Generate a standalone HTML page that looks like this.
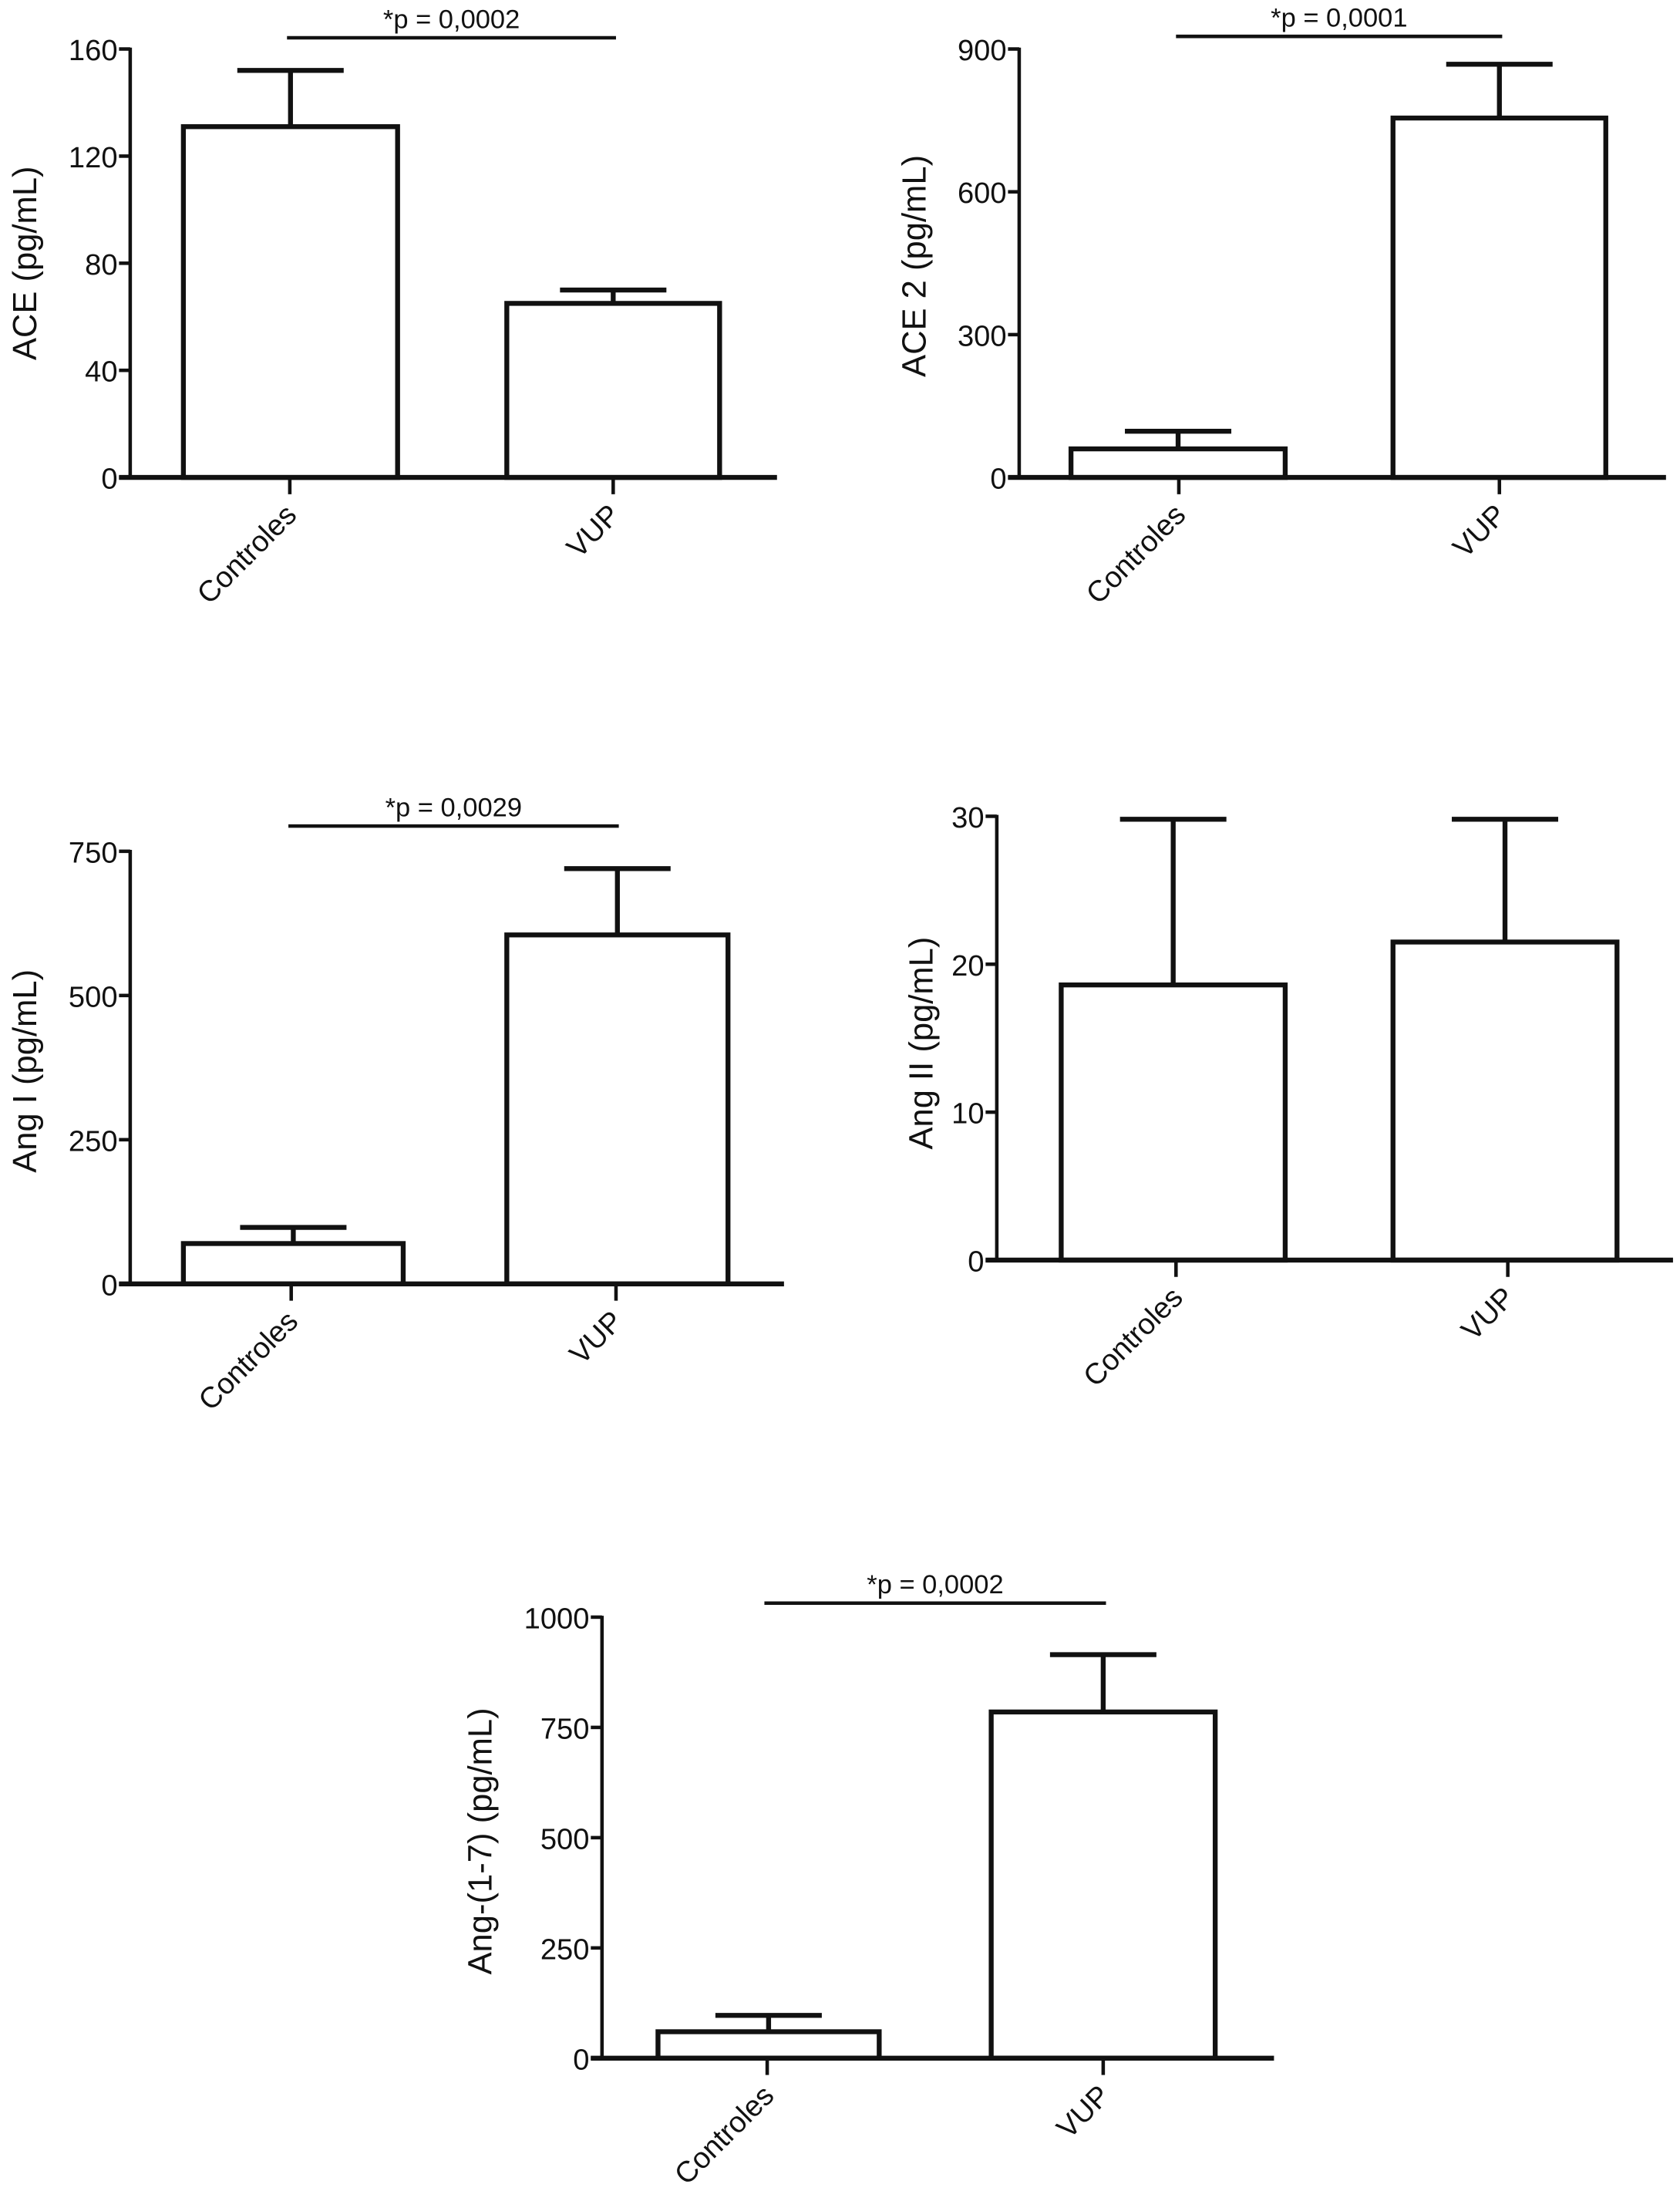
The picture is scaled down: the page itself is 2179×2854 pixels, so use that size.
<!DOCTYPE html>
<html><head><meta charset="utf-8"><style>
html,body{margin:0;padding:0;background:#fff;}
svg{display:block;}
text{font-family:"Liberation Sans",sans-serif;fill:#111;}
</style></head><body>
<svg id="fig" width="2179" height="2854" viewBox="0 0 1200 1572" preserveAspectRatio="none" xmlns="http://www.w3.org/2000/svg"></svg>
<script>
const categories = ["Controles", "VUP"];
const aceMeans = [131, 65];
const aceErr = [152, 70];
const ace2Means = [60, 755];
const ace2Err = [97, 868];
const angIMeans = [70, 605];
const angIErr = [98, 720];
const angIIMeans = [18.6, 21.5];
const angIIErr = [29.8, 29.8];
const ang17Means = [60, 785];
const ang17Err = [97, 915];
const aceTicks = [0, 40, 80, 120, 160];
const ace2Ticks = [0, 300, 600, 900];
const angITicks = [0, 250, 500, 750];
const angIITicks = [0, 10, 20, 30];
const ang17Ticks = [0, 250, 500, 750, 1000];
const pLabels = ["*p = 0,0002", "*p = 0,0001", "*p = 0,0029", "", "*p = 0,0002"];

const NS = "http://www.w3.org/2000/svg";
const svg = document.getElementById("fig");
function mk(tag, attrs, parent) {
  const e = document.createElementNS(NS, tag);
  for (const k in attrs) e.setAttribute(k, attrs[k]);
  (parent || svg).appendChild(e);
  return e;
}
const SW = 3.5;
function chart(cfg) {
  const g = mk("g", {});
  
  
  const max = cfg.ticks[cfg.ticks.length - 1];
  const y = v => cfg.y0 - (v / max) * (cfg.y0 - cfg.yTop);
  cfg.means.forEach((m, i) => {
    const [bx0, bx1] = cfg.bars[i];
    const cx = (bx0 + bx1) / 2;
    const ln = mk("line", {x1: cx, x2: cx, y1: y(m), y2: y(cfg.err[i]), stroke: "#111", "stroke-width": SW}, g);
    
    
    const cap = mk("line", {x1: cx - 38, x2: cx + 38, y1: y(cfg.err[i]), y2: y(cfg.err[i]), stroke: "#111", "stroke-width": SW}, g);
    
    
    const r = mk("rect", {x: bx0, y: y(m), width: bx1 - bx0, height: cfg.y0 - y(m), fill: "#fff", stroke: "#111", "stroke-width": SW}, g);
    
    
    const tk = mk("line", {x1: cfg.tx[i], x2: cfg.tx[i], y1: cfg.y0, y2: cfg.y0 + 12, stroke: "#111", "stroke-width": 2.5}, g);
    
    
    const t = mk("text", {x: cfg.tx[i] + 6, y: cfg.y0 + 28, "font-size": 21, "text-anchor": "end", transform: "rotate(-45 " + (cfg.tx[i] + 6) + " " + (cfg.y0 + 28) + ")"}, g);
    t.textContent = categories[i];
    
    
  });
  const ax = mk("line", {x1: cfg.ax, x2: cfg.ax, y1: cfg.yTop - 1, y2: cfg.y0, stroke: "#111", "stroke-width": 2.5}, g);
  
  
  const xa = mk("line", {x1: cfg.ax - 8, x2: cfg.xEnd, y1: cfg.y0, y2: cfg.y0, stroke: "#111", "stroke-width": SW}, g);
  
  
  cfg.ticks.forEach(v => {
    const tl = mk("line", {x1: cfg.ax - 8, x2: cfg.ax, y1: y(v), y2: y(v), stroke: "#111", "stroke-width": 2.5}, g);
    
    
    const tt = mk("text", {x: cfg.ax - 9, y: y(v) + 8, "font-size": 21, "text-anchor": "end"}, g);
    tt.textContent = v;
    
    
  });
  const yl = mk("text", {x: cfg.ylx, y: cfg.yly, "font-size": 24, "text-anchor": "middle", transform: "rotate(-90 " + cfg.ylx + " " + cfg.yly + ")"}, g);
  yl.textContent = cfg.ylabel;
  
  
  if (cfg.p) {
    const sl = mk("line", {x1: cfg.tx[0] - 2, x2: cfg.tx[1] + 2, y1: cfg.sigY, y2: cfg.sigY, stroke: "#111", "stroke-width": 2.5}, g);
    
    
    const pt = mk("text", {x: (cfg.tx[0] + cfg.tx[1]) / 2, y: cfg.sigY - 7, "font-size": 19, "text-anchor": "middle"}, g);
    pt.textContent = cfg.p;
    
    
  }
}
chart({name: "ace-chart", means: aceMeans, err: aceErr, ticks: aceTicks, ax: 93, y0: 341, yTop: 35, xEnd: 555, bars: [[131, 284], [362, 514]], tx: [207, 438], ylabel: "ACE (pg/mL)", ylx: 26, yly: 188, sigY: 27, p: pLabels[0]});
chart({name: "ace2-chart", means: ace2Means, err: ace2Err, ticks: ace2Ticks, ax: 728, y0: 341, yTop: 35, xEnd: 1190, bars: [[765, 918], [995, 1147]], tx: [842, 1071], ylabel: "ACE 2 (pg/mL)", ylx: 661, yly: 190, sigY: 26, p: pLabels[1]});
chart({name: "ang-i-chart", means: angIMeans, err: angIErr, ticks: angITicks, ax: 93, y0: 917, yTop: 608, xEnd: 560, bars: [[131, 288], [362, 520]], tx: [208, 440], ylabel: "Ang I (pg/mL)", ylx: 26, yly: 765, sigY: 590, p: pLabels[2]});
chart({name: "ang-ii-chart", means: angIIMeans, err: angIIErr, ticks: angIITicks, ax: 712, y0: 900, yTop: 583, xEnd: 1195, bars: [[758, 918], [995, 1155]], tx: [840, 1077], ylabel: "Ang II (pg/mL)", ylx: 666, yly: 745, sigY: 0, p: pLabels[3]});
chart({name: "ang-1-7-chart", means: ang17Means, err: ang17Err, ticks: ang17Ticks, ax: 430, y0: 1470, yTop: 1155, xEnd: 910, bars: [[470, 628], [708, 868]], tx: [548, 788], ylabel: "Ang-(1-7) (pg/mL)", ylx: 351, yly: 1315, sigY: 1145, p: pLabels[4]});
</script>
</body></html>
